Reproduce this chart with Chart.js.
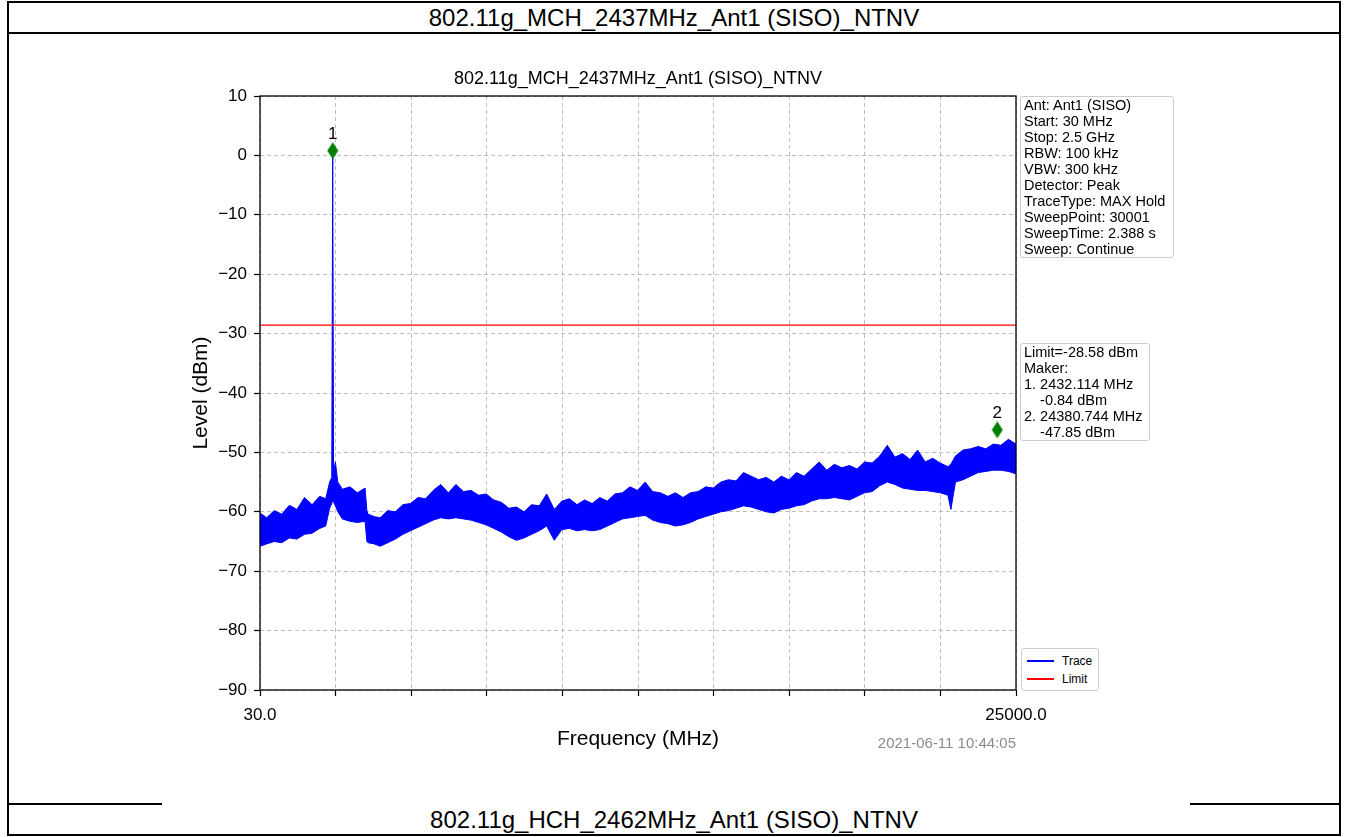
<!DOCTYPE html>
<html>
<head>
    <title>802.11g MCH 2437MHz spurious sweep</title>
    <meta charset="utf-8">
    <style>
        body { margin: 0; background: #fff; font-family: "Liberation Sans", Arial, sans-serif; }
        #page { position: relative; width: 1346px; height: 837px; overflow: hidden; }
        .line { position: absolute; background: #000; }
        .hdr { position: absolute; left: 8px; width: 1332px; text-align: center; font-size: 24px; color: #000; }
        #plotwrap { position: absolute; left: 162px; top: 35px; width: 1028px; height: 770px; background: #fff; }
        .box { position: absolute; border: 1px solid #cccccc; border-radius: 3px; background: #fff;
               font-size: 14.5px; line-height: 16px; padding: 0 3px; white-space: pre; color: #000; }
        #legend { position: absolute; left: 1021px; top: 648px; width: 76px; height: 41px;
                  border: 1px solid #cccccc; border-radius: 3px; background: #fff; font-size: 12px; }
        .lg { position: absolute; left: 4px; height: 18px; line-height: 18px; }
        .lg span.sw { position: absolute; left: 1px; top: 8px; width: 27px; height: 1.5px; }
        .lg span.tx { position: absolute; left: 36px; top: 0; }
        #stamp { position: absolute; right: 330px; top: 734px; font-size: 15px; color: #8c8c8c; }
    </style>
</head>

<body>
<div id="page">
    <!-- table frame -->
    <div class="line" style="left:7px; top:1px; width:1334px; height:2px;"></div>
    <div class="line" style="left:7px; top:32px; width:1334px; height:2px;"></div>
    <div class="line" style="left:7px; top:803px; width:1334px; height:2px;"></div>
    <div class="line" style="left:7px; top:834px; width:1334px; height:2px;"></div>
    <div class="line" style="left:7px; top:1px; width:2px; height:835px;"></div>
    <div class="line" style="left:1339px; top:1px; width:2px; height:835px;"></div>
    <div class="hdr" style="top:4px;">802.11g_MCH_2437MHz_Ant1 (SISO)_NTNV</div>
    <div class="hdr" style="top:806px;">802.11g_HCH_2462MHz_Ant1 (SISO)_NTNV</div>

    <div id="plotwrap"><canvas id="spectrum"></canvas></div>

    <div class="box" style="left:1020px; top:96px; width:146px; height:160px;">Ant: Ant1 (SISO)
Start: 30 MHz
Stop: 2.5 GHz
RBW: 100 kHz
VBW: 300 kHz
Detector: Peak
TraceType: MAX Hold
SweepPoint: 30001
SweepTime: 2.388 s
Sweep: Continue</div>

    <div class="box" style="left:1020px; top:343px; width:122px; height:96px;">Limit=-28.58 dBm
Maker:
1. 2432.114 MHz
    -0.84 dBm
2. 24380.744 MHz
    -47.85 dBm</div>

    <div id="legend">
        <div class="lg" style="top:3px;"><span class="sw" style="background:#0000ff"></span><span class="tx">Trace</span></div>
        <div class="lg" style="top:21px;"><span class="sw" style="background:#ff0000"></span><span class="tx">Limit</span></div>
    </div>

    <div id="stamp">2021-06-11 10:44:05</div>
</div>

<script src="https://cdn.jsdelivr.net/npm/chart.js"></script>
<script>
    // ---- data ----
    const chartTitle = '802.11g_MCH_2437MHz_Ant1 (SISO)_NTNV';

    // x axis ticks (MHz), only the ends carry text
    const xTicks = [30, 2527, 5024, 7521, 10018, 12515, 15012, 17509, 20006, 22503, 25000];
    const xTickLabels = ['30.0', '', '', '', '', '', '', '', '', '', '25000.0'];
    const yMin = -90, yMax = 10, yStep = 10;

    // trace envelope: frequency (MHz), upper edge and lower edge (dBm)
    const traceFreq = [
        30, 250, 500, 750, 1000, 1250, 1500, 1750, 2000, 2200,
        2330, 2400, 2432, 2460, 2520, 2600, 2750, 3000, 3250, 3500,
        3560, 3600, 3800, 4000, 4250, 4500, 4750, 5000, 5250, 5500,
        5750, 6000, 6250, 6500, 6750, 7000, 7250, 7500, 7750, 8000,
        8250, 8500, 8750, 9000, 9250, 9500, 9750, 10000, 10250, 10500,
        10750, 11000, 11250, 11500, 11750, 12000, 12250, 12500, 12750, 13000,
        13250, 13500, 13750, 14000, 14250, 14500, 14750, 15000, 15250, 15500,
        15750, 16000, 16250, 16500, 16750, 17000, 17250, 17500, 17750, 18000,
        18250, 18500, 18750, 19000, 19250, 19500, 19750, 20000, 20250, 20500,
        20750, 21000, 21250, 21500, 21750, 22000, 22250, 22500, 22750, 22850,
        23000, 23250, 23500, 23750, 24000, 24250, 24500, 24750, 25000
    ];
    const traceHigh = [
        -60.2, -61.0, -59.8, -60.4, -58.9, -59.6, -57.6, -58.8, -57.4, -57.8,
        -55.0, -54.2, 0.8, -53.5, -51.6, -55.0, -56.2, -55.8, -56.8, -56.0,
        -59.8, -60.4, -60.8, -61.0, -59.8, -60.0, -58.8, -58.6, -57.6, -57.8,
        -56.4, -55.4, -56.8, -55.4, -56.6, -56.4, -57.2, -57.0, -58.0, -58.4,
        -59.4, -59.2, -60.0, -58.8, -59.0, -57.0, -59.6, -58.2, -57.8, -58.8,
        -58.0, -58.6, -57.6, -58.2, -57.0, -56.8, -55.8, -56.4, -55.0, -56.6,
        -56.8, -57.4, -56.8, -57.6, -56.8, -56.6, -55.8, -56.0, -55.0, -54.6,
        -54.8, -53.4, -54.0, -54.6, -54.2, -55.0, -54.0, -54.6, -53.4, -54.0,
        -52.8, -51.6, -53.0, -52.0, -52.6, -52.2, -52.8, -51.6, -51.8, -50.6,
        -48.8, -50.8, -50.2, -51.2, -49.6, -51.6, -51.0, -51.8, -52.4, -52.0,
        -50.6, -49.6, -49.4, -49.0, -49.4, -48.6, -48.8, -47.8, -48.6
    ];
    const traceLow = [
        -65.8, -65.4, -65.0, -65.2, -64.4, -64.6, -63.8, -63.6, -62.8, -62.4,
        -59.4, -58.6, -58.0, -58.4, -59.0, -60.0, -61.2, -61.6, -61.8, -61.6,
        -65.0, -65.2, -65.4, -65.8, -65.2, -64.6, -63.8, -63.2, -62.6, -62.0,
        -61.4, -61.0, -61.2, -61.0, -61.2, -61.4, -61.8, -62.2, -62.8, -63.4,
        -64.2, -64.8, -64.4, -63.8, -63.2, -62.4, -64.8, -63.0, -62.8, -63.2,
        -63.0, -63.2, -63.0, -62.4, -61.8, -61.2, -61.0, -60.8, -60.6, -61.4,
        -61.8, -62.0, -62.4, -62.2, -61.8, -61.2, -60.8, -60.4, -60.0, -59.8,
        -59.4, -59.0, -59.2, -59.6, -60.0, -60.2, -59.6, -59.4, -59.0, -58.8,
        -58.2, -57.8, -57.8, -57.6, -57.8, -58.0, -57.4, -56.8, -56.6, -55.6,
        -55.0, -55.4, -56.0, -56.2, -56.4, -56.4, -56.6, -56.8, -57.2, -59.6,
        -55.0, -54.6, -54.0, -53.4, -53.2, -53.0, -53.0, -53.2, -53.6
    ];

    const limitLevel = -28.58;
    const limitFreq = [30, 25000];

    // markers as plotted
    const markerFreq = [2432.114, 24380.744];
    const markerLevel = [0.8, -46.2];
    const markerLabels = ['1', '2'];

    // ---- build datasets ----
    const highPts = traceFreq.map((f, i) => ({x: f, y: traceHigh[i]}));
    const lowPts = traceFreq.map((f, i) => ({x: f, y: traceLow[i]}));
    const limitPts = limitFreq.map(f => ({x: f, y: limitLevel}));
    const markerPts = markerFreq.map((f, i) => ({x: f, y: markerLevel[i]}));

    // thin green diamond like matplotlib 'd'
    const diamond = document.createElement('canvas');
    diamond.width = 12; diamond.height = 17;
    const dctx = diamond.getContext('2d');
    dctx.fillStyle = '#008000';
    dctx.beginPath();
    dctx.moveTo(6, 0); dctx.lineTo(11.5, 8.5); dctx.lineTo(6, 17); dctx.lineTo(0.5, 8.5);
    dctx.closePath();
    dctx.fill();

    const FONT = '"Liberation Sans", Arial, sans-serif';

    // plot frame, title over the plot area, marker numbers
    const framePlugin = {
        id: 'frame',
        afterDatasetsDraw(chart) {
            const ctx = chart.ctx;
            const meta = chart.getDatasetMeta(3);
            ctx.save();
            ctx.fillStyle = '#000';
            ctx.font = '17px ' + FONT;
            ctx.textAlign = 'center';
            ctx.textBaseline = 'bottom';
            meta.data.forEach((pt, i) => {
                ctx.fillText(markerLabels[i], pt.x, pt.y - 8);
            });
            ctx.restore();
        },
        afterDraw(chart) {
            const a = chart.chartArea;
            const ctx = chart.ctx;
            ctx.save();
            ctx.strokeStyle = '#000';
            ctx.lineWidth = 1.3;
            ctx.strokeRect(a.left, a.top, a.right - a.left, a.bottom - a.top);
            ctx.fillStyle = '#000';
            ctx.font = '18px ' + FONT;
            ctx.textAlign = 'center';
            ctx.textBaseline = 'middle';
            ctx.fillText(chartTitle, (a.left + a.right) / 2, a.top - 17);
            ctx.restore();
        }
    };

    const minusFmt = v => (v < 0 ? '\u2212' + Math.abs(v) : String(v));

    new Chart(document.getElementById('spectrum').getContext('2d'), {
        type: 'scatter',
        data: {
            datasets: [
                {label: 'Trace', data: highPts, showLine: true, borderColor: '#0000ff',
                 backgroundColor: '#0000ff', borderWidth: 1, pointRadius: 0, fill: false, order: 2},
                {label: 'Trace low', data: lowPts, showLine: true, borderColor: '#0000ff',
                 backgroundColor: '#0000ff', borderWidth: 1, pointRadius: 0, fill: '-1', order: 2},
                {label: 'Limit', data: limitPts, showLine: true, borderColor: '#ff0000',
                 borderWidth: 1.2, pointRadius: 0, fill: false, order: 1},
                {label: 'Marker', data: markerPts, showLine: false, pointStyle: diamond,
                 pointRadius: 8, order: 0}
            ]
        },
        options: {
            responsive: true,
            maintainAspectRatio: false,
            animation: false,
            layout: { padding: {left: 24, right: 174, top: 61, bottom: 49} },
            plugins: {
                legend: { display: false },
                tooltip: { enabled: false },
                title: { display: false }
            },
            scales: {
                x: {
                    type: 'linear',
                    min: 30,
                    max: 25000,
                    afterBuildTicks: scale => { scale.ticks = xTicks.map(v => ({value: v})); },
                    afterFit: scale => { scale.height = 66; },
                    ticks: {
                        autoSkip: false,
                        maxRotation: 0,
                        padding: 9,
                        color: '#000',
                        font: {family: FONT, size: 17},
                        callback: (v, i) => xTickLabels[i]
                    },
                    grid: {
                        color: '#b0b0b0', lineWidth: 0.8,
                        tickColor: '#000', tickLength: 6, tickWidth: 1.2, tickBorderDash: []
                    },
                    border: { display: false, dash: [4, 3] },
                    title: {
                        display: true, text: 'Frequency (MHz)', color: '#000',
                        font: {family: FONT, size: 21}, padding: {top: 4, bottom: 4}
                    }
                },
                y: {
                    min: yMin,
                    max: yMax,
                    afterFit: scale => { scale.width = 74; },
                    ticks: {
                        stepSize: yStep,
                        padding: 7,
                        color: '#000',
                        font: {family: FONT, size: 17},
                        callback: v => minusFmt(v)
                    },
                    grid: {
                        color: '#b0b0b0', lineWidth: 0.8,
                        tickColor: '#000', tickLength: 6, tickWidth: 1.2, tickBorderDash: []
                    },
                    border: { display: false, dash: [4, 3] },
                    title: {
                        display: true, text: 'Level (dBm)', color: '#000',
                        font: {family: FONT, size: 21}, padding: {top: 3, bottom: 4}
                    }
                }
            }
        },
        plugins: [framePlugin]
    });
</script>
</body>
</html>
